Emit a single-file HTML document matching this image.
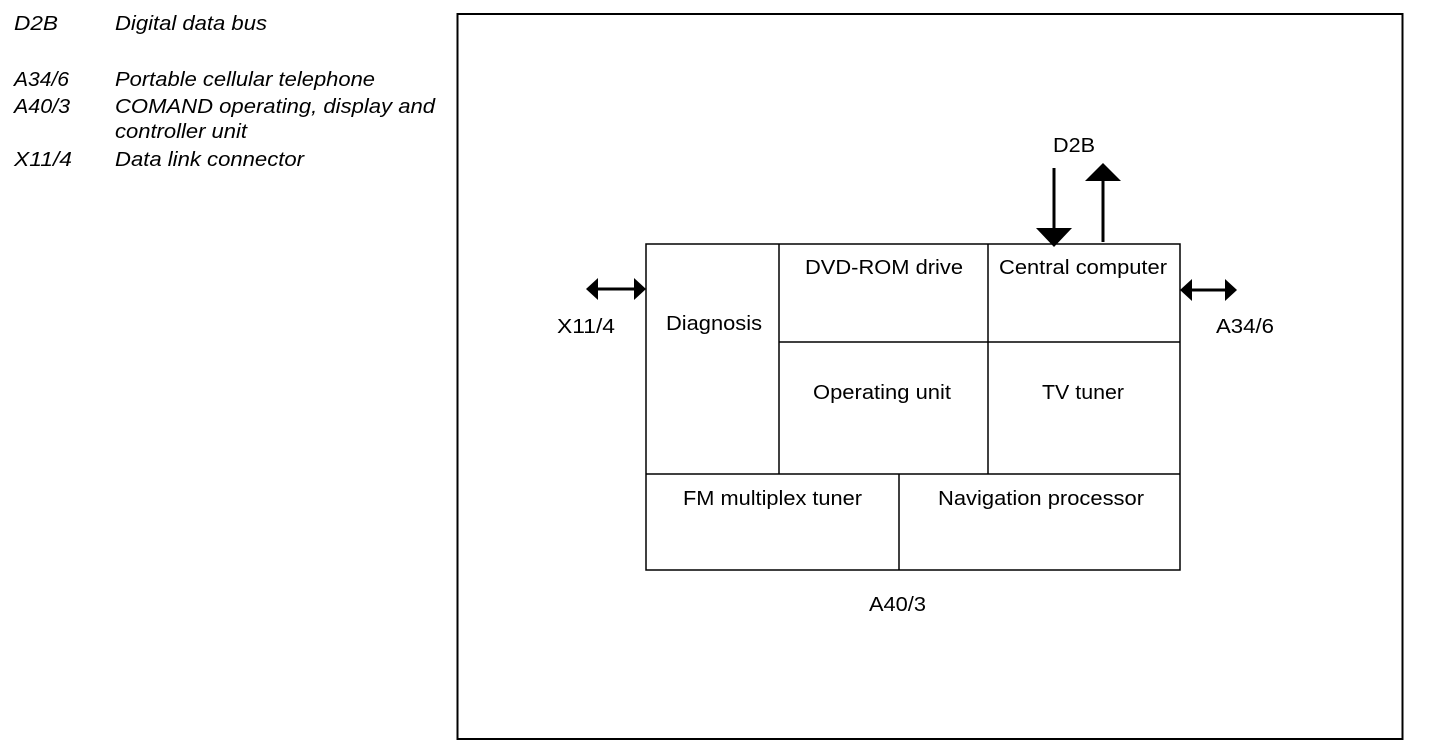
<!DOCTYPE html>
<html><head><style>
html,body{margin:0;padding:0;background:#fff;width:1440px;height:748px;overflow:hidden}
svg text{font-family:"Liberation Sans",Arial,sans-serif;font-size:20px;fill:#000}
</style></head><body>
<svg width="1440" height="748" xmlns="http://www.w3.org/2000/svg">
<g font-style="italic">
<text x="14" y="30" textLength="44" lengthAdjust="spacingAndGlyphs">D2B</text>
<text x="115" y="30" textLength="152" lengthAdjust="spacingAndGlyphs">Digital data bus</text>
<text x="14" y="86" textLength="55" lengthAdjust="spacingAndGlyphs">A34/6</text>
<text x="115" y="86" textLength="260" lengthAdjust="spacingAndGlyphs">Portable cellular telephone</text>
<text x="14" y="113" textLength="56" lengthAdjust="spacingAndGlyphs">A40/3</text>
<text x="115" y="113" textLength="320" lengthAdjust="spacingAndGlyphs">COMAND operating, display and</text>
<text x="115" y="138" textLength="132" lengthAdjust="spacingAndGlyphs">controller unit</text>
<text x="14" y="166" textLength="58" lengthAdjust="spacingAndGlyphs">X11/4</text>
<text x="115" y="166" textLength="189" lengthAdjust="spacingAndGlyphs">Data link connector</text>
</g>
<rect x="457.5" y="14" width="945" height="725" fill="none" stroke="#000" stroke-width="2"/>
<g stroke="#000" stroke-width="1.5" fill="none">
<rect x="646" y="244" width="534" height="326"/>
<line x1="779" y1="244" x2="779" y2="474"/>
<line x1="988" y1="244" x2="988" y2="474"/>
<line x1="779" y1="342" x2="1180" y2="342"/>
<line x1="646" y1="474" x2="1180" y2="474"/>
<line x1="899" y1="474" x2="899" y2="570"/>
</g>
<g stroke="#000" stroke-width="3">
<line x1="1054" y1="168" x2="1054" y2="232"/>
<line x1="1103" y1="178" x2="1103" y2="242"/>
<line x1="596" y1="289" x2="636" y2="289"/>
<line x1="1190" y1="290" x2="1228" y2="290"/>
</g>
<g fill="#000">
<polygon points="1036,228 1072,228 1054,247"/>
<polygon points="1085,181 1121,181 1103,163"/>
<polygon points="586,289 598,278 598,300"/>
<polygon points="646,289 634,278 634,300"/>
<polygon points="1180,290 1192,279 1192,301"/>
<polygon points="1237,290 1225,279 1225,301"/>
</g>
<text x="1053" y="152" textLength="42" lengthAdjust="spacingAndGlyphs">D2B</text>
<text x="557" y="333" textLength="58" lengthAdjust="spacingAndGlyphs">X11/4</text>
<text x="1216" y="333" textLength="58" lengthAdjust="spacingAndGlyphs">A34/6</text>
<text x="666" y="330" textLength="96" lengthAdjust="spacingAndGlyphs">Diagnosis</text>
<text x="805" y="274" textLength="158" lengthAdjust="spacingAndGlyphs">DVD-ROM drive</text>
<text x="999" y="274" textLength="168" lengthAdjust="spacingAndGlyphs">Central computer</text>
<text x="813" y="399" textLength="138" lengthAdjust="spacingAndGlyphs">Operating unit</text>
<text x="1042" y="399" textLength="82" lengthAdjust="spacingAndGlyphs">TV tuner</text>
<text x="683" y="505" textLength="179" lengthAdjust="spacingAndGlyphs">FM multiplex tuner</text>
<text x="938" y="505" textLength="206" lengthAdjust="spacingAndGlyphs">Navigation processor</text>
<text x="869" y="611" textLength="57" lengthAdjust="spacingAndGlyphs">A40/3</text>
</svg>
</body></html>
